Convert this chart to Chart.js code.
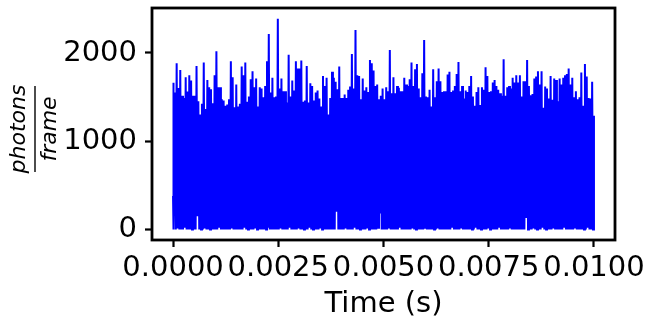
<!DOCTYPE html>
<html lang="en">
<head>
  <meta charset="UTF-8">
  <title>photons per frame</title>
  <style>
    body { margin: 0; background: #fff; }
  </style>
</head>
<body>
  <div><canvas id="myChart" width="655" height="325"></canvas></div>
  <script src="https://cdn.jsdelivr.net/npm/chart.js"></script>
  <script>
// top of each spike, read left to right (photons / frame)
const peaksA = [1664,1551,1883,1604,1808,1514,1490,1725,1563,1748,1688,1514,1514,1853,1454,1303,1424,1891,1364,1695,1612,1590,1431,1748,2019,1612,1612,1476,1461,1401,1416,1476,1906,1725,1386,1642,1394,1424,1846,1748,1891,1446,1506,1703,1793,1612,1710,1394,1612,1597,1499,1627,1906,2215,1551,1718,1499]
const peaksB = [1506,2388,1597,1710,1567,1567,1439,1981,1506,1688,1574,1906,1823,1823,1914,1446,1461,1853,1439,1657,1627,1461,1551,1574,1484,1394,1740,1627,1718,1303,1491,1786,1718,1673,1590,1846,1491,1491,1529,1491,1582,1620,1989,1597,2260,1748,1740,1476,1710,1574,1612,1559,1921,1883,1801,1627,1642,1476,1514]
const peaksC = [1597,1476,1612,1567,2034,1544,1725,1544,1627,1605,1567,1567,1718,1642,1627,1703,1891,1627,1816,1876,1597,1499,1771,2147,1506,1499,1582,1394,1816,1499,1680,1823,1680,1559,1567,1567,1755,1786,1559,1574,1627,1763,1899,1567,1627,1484,1574,1559,1627,1740,1506,1401,1559,1612,1409,1612,1582]
const peaksD = [1838,1740,1559,1567,1665,1695,1627,1582,1544,1514,1929,1514,1612,1627,1597,1718,1665,1748,1665,1748,1506,1680,1680,1921,1627,1521,1536,1710,1733,1793,1642,1793,1379,1620,1597,1484,1740,1469,1710,1695,1454,1710,1642,1718,1748,1763,1823,1642,1718,1499,1567,1476,1499,1778,1401,1876,1733,1491,1484,1673,1288]

// bottom of the trace before each spike
const troughsA = [380,0,0,10,0,0,0,20,0,0,0,0,0,0,150,0,0,0,10,0,0,0,0,0,0,0,20,0,0,0,0,0,0,10,0,0,0,0,0,0,20,0,0,0,0,0,10,0,0,0,0,0,0,20,0,0,0]
const troughsB = [0,0,0,10,0,0,0,0,20,0,0,0,0,10,0,0,0,0,0,20,0,0,0,0,0,10,0,0,0,0,0,0,0,0,200,0,0,0,0,10,0,0,0,0,20,0,0,0,0,0,0,10,0,0,0,0,0,20,180]
const troughsC = [0,0,0,0,10,0,0,0,0,0,20,0,0,0,0,0,0,10,0,0,0,0,0,0,20,0,0,0,0,0,0,10,0,0,0,0,0,0,0,20,0,0,0,0,10,0,0,0,0,0,0,0,20,0,0,0,0]
const troughsD = [0,0,10,0,0,0,0,0,20,0,0,0,0,0,10,0,0,0,0,0,0,0,0,130,0,0,0,10,0,0,0,0,20,0,0,0,0,0,10,0,0,0,0,0,20,0,0,0,0,0,10,0,0,0,0,0,0,20,0,0,0]

const xTicks = [0, 0.0025, 0.005, 0.0075, 0.01]
const yTicks = [0, 1000, 2000]
const tStart = 0
const tEnd = 0.01

const peaks = [...peaksA, ...peaksB, ...peaksC, ...peaksD]
const troughs = [...troughsA, ...troughsB, ...troughsC, ...troughsD]

// interleave trough / peak so the trace zig-zags like the dense signal
const points = []
const step = (tEnd - tStart) / (peaks.length - 1)
peaks.forEach((p, i) => {
  const t = tStart + i * step
  points.push({ x: Math.max(tStart, t - step / 2), y: troughs[i] })
  points.push({ x: t, y: p })
})

const FONT = 'DejaVu Sans'

const frame = {
  id: 'frame',
  afterDraw(chart) {
    const { ctx, chartArea: a } = chart
    ctx.save()
    ctx.strokeStyle = '#000'
    ctx.lineWidth = 2.8
    ctx.strokeRect(a.left, a.top, a.right - a.left, a.bottom - a.top)

    // y label: photons over frame
    ctx.translate(35, 129)
    ctx.rotate(-Math.PI / 2)
    ctx.fillStyle = '#000'
    ctx.font = 'italic 22px "' + FONT + '"'
    ctx.textAlign = 'center'
    ctx.textBaseline = 'alphabetic'
    ctx.fillText('photons', 0, -10)
    ctx.fillText('frame', 0, 21)
    ctx.lineWidth = 1.4
    ctx.beginPath()
    ctx.moveTo(-43, 0)
    ctx.lineTo(43, 0)
    ctx.stroke()
    ctx.restore()
  }
}

new Chart(document.getElementById('myChart'), {
  type: 'line',
  data: {
    datasets: [{
      data: points,
      borderColor: '#0000ff',
      borderWidth: 2,
      pointRadius: 0,
      tension: 0,
      fill: false
    }]
  },
  options: {
    responsive: false,
    animation: false,
    events: [],
    layout: { padding: { left: 0, top: 8, right: 40, bottom: 0 } },
    plugins: { legend: { display: false }, tooltip: { enabled: false } },
    scales: {
      x: {
        type: 'linear',
        min: -0.0005,
        max: 0.0105,
        afterFit: s => { s.height = 85; s.paddingLeft = 0; s.paddingRight = 0 },
        afterBuildTicks: s => { s.ticks = xTicks.map(v => ({ value: v })) },
        grid: { display: true, drawOnChartArea: false, tickLength: 7, tickWidth: 2.2, tickColor: '#000' },
        border: { display: false },
        ticks: {
          color: '#000',
          font: { family: FONT, size: 29 },
          padding: 4,
          maxRotation: 0,
          autoSkip: false,
          callback: v => v.toFixed(4)
        },
        title: {
          display: true,
          text: 'Time (s)',
          color: '#000',
          font: { family: FONT, size: 29 },
          padding: { top: 0, bottom: 3 }
        }
      },
      y: {
        min: -120,
        max: 2510,
        afterFit: s => { s.width = 152; s.paddingTop = 0; s.paddingBottom = 0 },
        afterBuildTicks: s => { s.ticks = yTicks.map(v => ({ value: v })) },
        grid: { display: true, drawOnChartArea: false, tickLength: 7, tickWidth: 2.2, tickColor: '#000' },
        border: { display: false },
        ticks: {
          color: '#000',
          font: { family: FONT, size: 29 },
          padding: 8,
          callback: v => String(v)
        }
      }
    }
  },
  plugins: [frame]
})
  </script>
</body>
</html>
